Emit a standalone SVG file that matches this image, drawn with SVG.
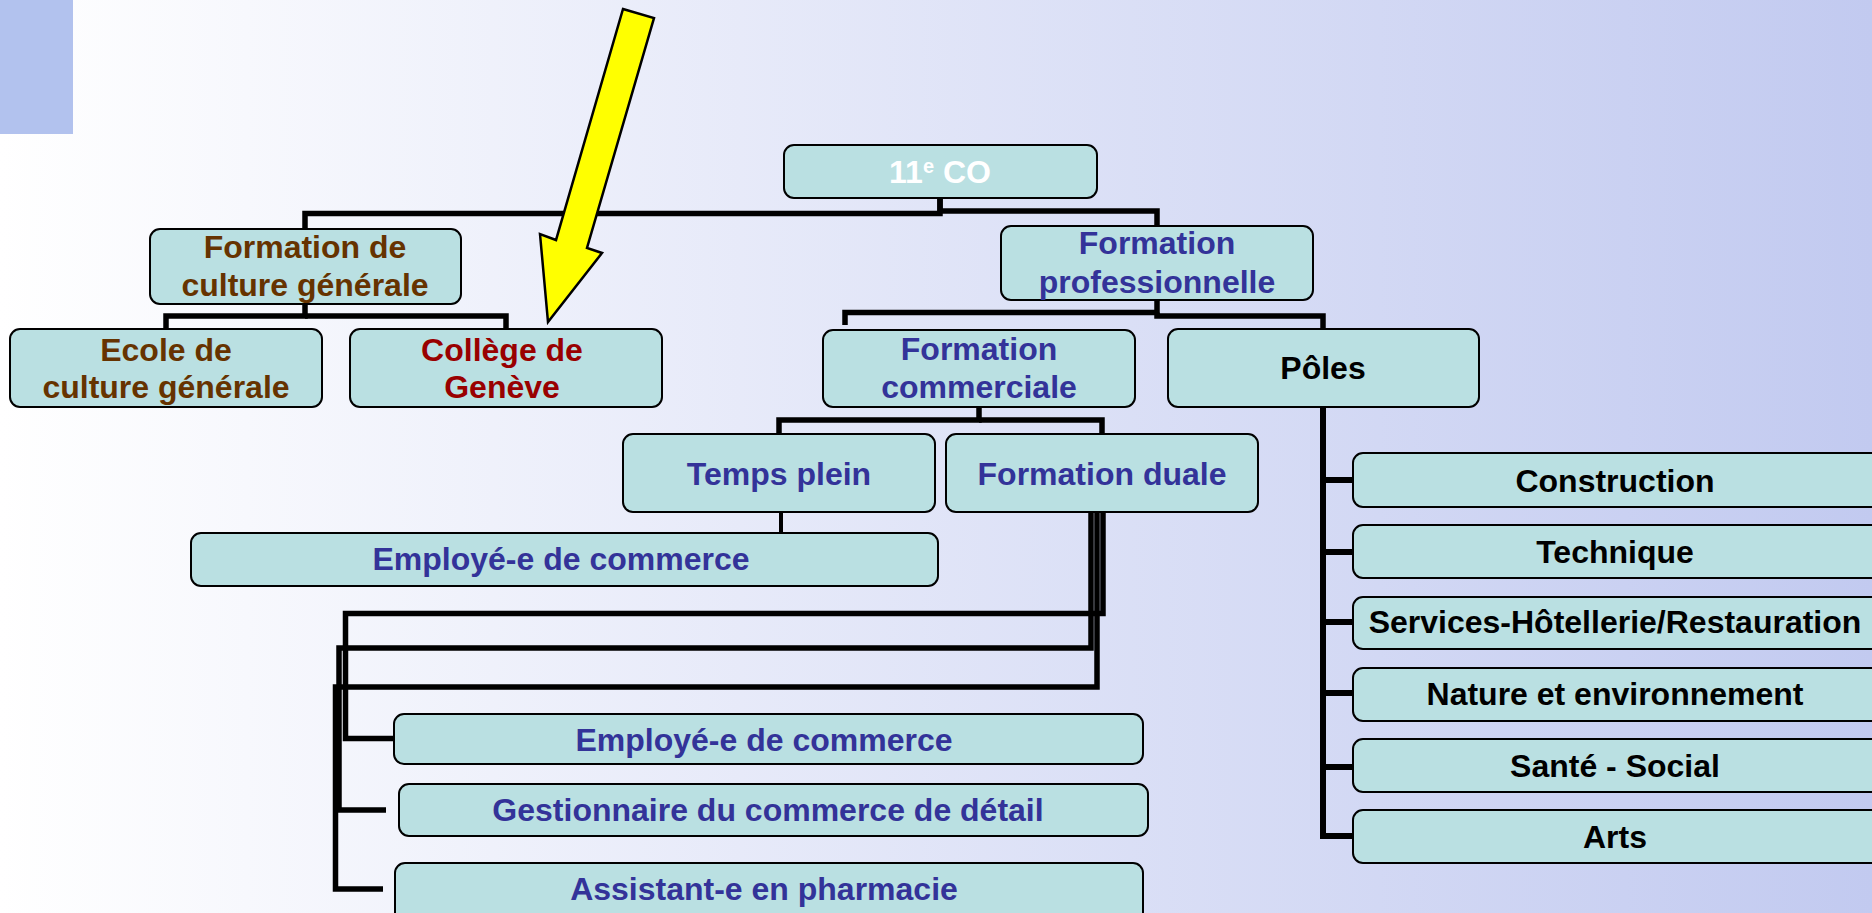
<svg xmlns="http://www.w3.org/2000/svg" width="1872" height="913" viewBox="0 0 1872 913">
<defs>
<linearGradient id="bg" x1="0" y1="0" x2="1" y2="0">
<stop offset="0" stop-color="#FFFFFF"/>
<stop offset="1" stop-color="#C2CAF0"/>
</linearGradient>
<style>
.box{fill:#BAE0E2;stroke:#000;stroke-width:2}
.t{font-family:"Liberation Sans",Arial,sans-serif;font-weight:bold;font-size:32px;text-anchor:middle}
.brown{fill:#663300}
.red{fill:#990000}
.blue{fill:#333399}
.black{fill:#000}
.white{fill:#FFFFFF}
.c{fill:none;stroke:#000;stroke-width:5.5;stroke-linejoin:miter;stroke-linecap:butt}
</style>
</defs>
<rect x="0" y="0" width="1872" height="913" fill="url(#bg)"/>
<rect x="0" y="0" width="73" height="134" fill="#B2C2EE"/>

<g id="connectors">
<path class="c" d="M940,198 V213.5 H305 V229"/>
<path class="c" d="M940,198 V211 H1157 V226"/>
<path class="c" d="M305,304 V316 H166 V329"/>
<path class="c" d="M305,316 H506 V329"/>
<path class="c" d="M1157,300 V312.5 H845 V325"/>
<path class="c" d="M1157,312.5 V316 H1323 V329"/>
<path class="c" d="M979,407 V420 H779 V434"/>
<path class="c" d="M979,420 H1102 V434"/>
<path class="c" style="stroke-width:4" d="M781,512 V533"/>
<path class="c" d="M1103,512 V613.5 H345.5 V738.5 H394"/>
<path class="c" d="M1091,512 V648 H339 V810 H386"/>
<path class="c" d="M1097,512 V687 H335.5 V889 H383"/>
<path class="c" style="stroke-width:6" d="M1323,407 V836 H1353"/>
<path class="c" style="stroke-width:6" d="M1323,480 H1353 M1323,552 H1353 M1323,622 H1353 M1323,693 H1353 M1323,767 H1353"/>
</g>

<g id="n-11co">
<rect class="box" x="784" y="145" width="313" height="53" rx="10"/>
<text class="t white" x="940" y="183">11<tspan font-size="20" dy="-10">e</tspan><tspan dy="10"> CO</tspan></text>
</g>
<g id="n-fcg">
<rect class="box" x="150" y="229" width="311" height="75" rx="10"/>
<text class="t brown" x="305" y="258">Formation de</text>
<text class="t brown" x="305" y="296">culture générale</text>
</g>
<g id="n-ecg">
<rect class="box" x="10" y="329" width="312" height="78" rx="10"/>
<text class="t brown" x="166" y="361">Ecole de</text>
<text class="t brown" x="166" y="398">culture générale</text>
</g>
<g id="n-college">
<rect class="box" x="350" y="329" width="312" height="78" rx="10"/>
<text class="t red" x="502" y="361">Collège de</text>
<text class="t red" x="502" y="398">Genève</text>
</g>
<g id="n-fp">
<rect class="box" x="1001" y="226" width="312" height="74" rx="10"/>
<text class="t blue" x="1157" y="254">Formation</text>
<text class="t blue" x="1157" y="293">professionnelle</text>
</g>
<g id="n-fc">
<rect class="box" x="823" y="330" width="312" height="77" rx="10"/>
<text class="t blue" x="979" y="360">Formation</text>
<text class="t blue" x="979" y="398">commerciale</text>
</g>
<g id="n-poles">
<rect class="box" x="1168" y="329" width="311" height="78" rx="10"/>
<text class="t black" x="1323" y="379">Pôles</text>
</g>
<g id="n-tp">
<rect class="box" x="623" y="434" width="312" height="78" rx="10"/>
<text class="t blue" x="779" y="485">Temps plein</text>
</g>
<g id="n-fd">
<rect class="box" x="946" y="434" width="312" height="78" rx="10"/>
<text class="t blue" x="1102" y="485">Formation duale</text>
</g>
<g id="n-emp1">
<rect class="box" x="191" y="533" width="747" height="53" rx="10"/>
<text class="t blue" x="561" y="570">Employé-e de commerce</text>
</g>
<g id="n-emp2">
<rect class="box" x="394" y="714" width="749" height="50" rx="10"/>
<text class="t blue" x="764" y="751">Employé-e de commerce</text>
</g>
<g id="n-gest">
<rect class="box" x="399" y="784" width="749" height="52" rx="10"/>
<text class="t blue" x="768" y="821">Gestionnaire du commerce de détail</text>
</g>
<g id="n-assist">
<rect class="box" x="395" y="863" width="748" height="60" rx="10"/>
<text class="t blue" x="764" y="900">Assistant-e en pharmacie</text>
</g>
<g id="n-construction">
<rect class="box" x="1353" y="453" width="540" height="54" rx="10"/>
<text class="t black" x="1615" y="492">Construction</text>
</g>
<g id="n-technique">
<rect class="box" x="1353" y="525" width="540" height="53" rx="10"/>
<text class="t black" x="1615" y="563">Technique</text>
</g>
<g id="n-services">
<rect class="box" x="1353" y="597" width="540" height="52" rx="10"/>
<text class="t black" x="1615" y="633">Services-Hôtellerie/Restauration</text>
</g>
<g id="n-nature">
<rect class="box" x="1353" y="668" width="540" height="53" rx="10"/>
<text class="t black" x="1615" y="705">Nature et environnement</text>
</g>
<g id="n-sante">
<rect class="box" x="1353" y="739" width="540" height="53" rx="10"/>
<text class="t black" x="1615" y="777">Santé - Social</text>
</g>
<g id="n-arts">
<rect class="box" x="1353" y="810" width="540" height="53" rx="10"/>
<text class="t black" x="1615" y="848">Arts</text>
</g>

<g id="arrow">
<polygon points="623,9 654,18 587,248 602,253 548,322 540,234 556,240" fill="#FFFF00" stroke="#000" stroke-width="2.5" stroke-linejoin="miter"/>
</g>
</svg>
